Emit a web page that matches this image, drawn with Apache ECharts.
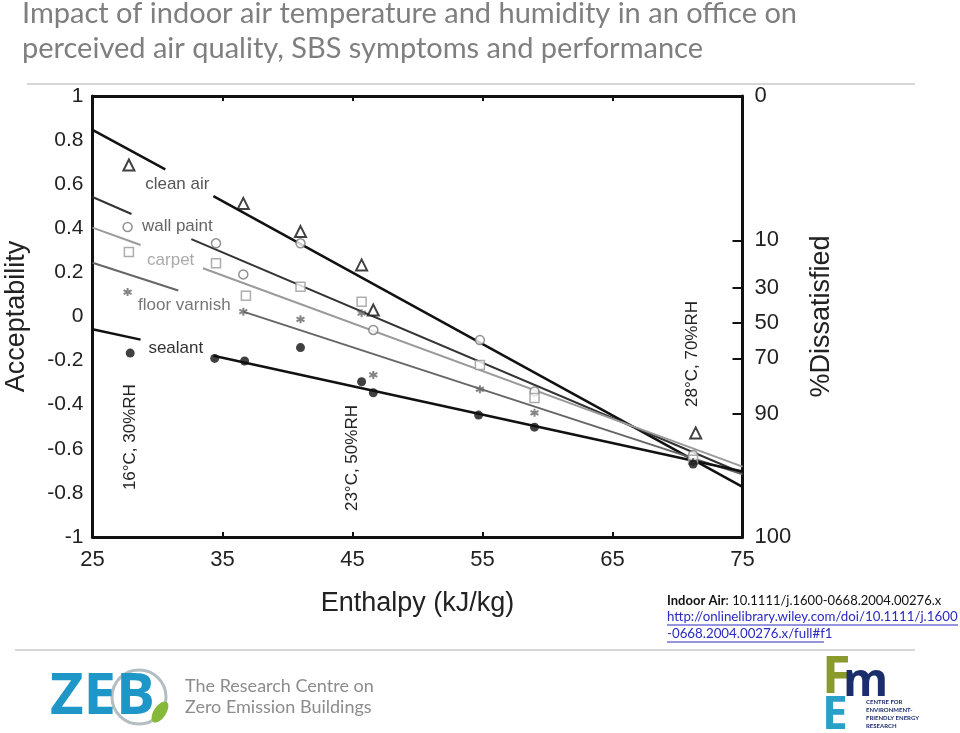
<!DOCTYPE html>
<html><head><meta charset="utf-8">
<script src="https://cdn.jsdelivr.net/npm/echarts@6/dist/echarts.min.js"></script>
<style>html,body{margin:0;padding:0;background:#fff}#c{width:960px;height:733px}</style>
</head><body><div id="c"></div>
<script>
// ---- data ----
const titleLines = ['Impact of indoor air temperature and humidity in an office on', 'perceived air quality, SBS symptoms and performance'];
const xTicks = [25, 35, 45, 55, 65, 75];
const dissatisfiedLabels = ['0', '10', '30', '50', '70', '90', '100'];
const dissatisfiedPos = [1, 0.345, 0.13, -0.03, -0.19, -0.44, -1];

// regression lines: [start, end of first piece, start of second piece, end]
const cleanAirFit = [[25, 0.846], [30.6, 0.667], [34.3, 0.546], [75, -0.773]];
const wallPaintFit = [[25, 0.542], [28.0, 0.465], [32.6, 0.351], [75, -0.711]];
const carpetFit = [[25, 0.403], [28.7, 0.324], [33.5, 0.219], [75, -0.681]];
const floorVarnishFit = [[25, 0.244], [31.6, 0.118], [36.6, 0.022], [75, -0.716]];
const sealantFit = [[25, -0.058], [28.7, -0.105], [34.3, -0.178], [75, -0.703]];

const cleanAirPts = [[27.8, 0.687], [36.6, 0.513], [41.0, 0.385], [45.7, 0.234], [46.6, 0.029], [71.4, -0.528]];
const wallPaintPts = [[27.7, 0.406], [34.5, 0.332], [36.6, 0.191], [41.0, 0.332], [46.6, -0.061], [54.8, -0.107], [59.0, -0.34], [71.2, -0.628]];
const carpetPts = [[27.8, 0.293], [34.5, 0.241], [36.8, 0.094], [41.0, 0.135], [45.7, 0.067], [54.8, -0.22], [59.0, -0.37], [71.2, -0.65]];
const floorVarnishPts = [[27.7, 0.111], [36.6, 0.022], [41.0, -0.013], [45.7, 0.015], [46.6, -0.265], [54.8, -0.33], [59.0, -0.437], [71.2, -0.66]];
const sealantPts = [[27.9, -0.166], [34.4, -0.19], [36.7, -0.202], [41.0, -0.141], [45.7, -0.296], [46.6, -0.346], [54.7, -0.447], [59.0, -0.502], [71.2, -0.669]];

const seriesNames = ['clean air', 'wall paint', 'carpet', 'floor varnish', 'sealant'];
const seriesLabelPos = [[29.05, 0.601], [28.8, 0.407], [29.2, 0.253], [28.5, 0.052], [29.3, -0.144]];
const conditionLabels = ['16°C, 30%RH', '23°C, 50%RH', '28°C, 70%RH'];
const conditionLabelPos = [[27.9, -0.547], [44.96, -0.642], [71.12, -0.17]];

// ---- styles ----
const FONT = '"Liberation Sans", Arial, sans-serif';
const lineColors = ['#111', '#333', '#9a9a9a', '#666', '#111'];
const lineWidths = [2.5, 2, 2, 2, 2.5];
const labelColors = ['#555', '#666', '#aaa', '#777', '#333'];
const fits = [cleanAirFit, wallPaintFit, carpetFit, floorVarnishFit, sealantFit];
const pts = [cleanAirPts, wallPaintPts, carpetPts, floorVarnishPts, sealantPts];
const asterisk = 'path://M0,-10L0,10M-8.66,-5L8.66,5M-8.66,5L8.66,-5';
const markerStyles = [
  {symbol: 'triangle', symbolSize: 11, itemStyle: {color: '#fff', borderColor: '#111', borderWidth: 2}},
  {symbol: 'circle', symbolSize: 9, itemStyle: {color: '#fff', borderColor: '#777', borderWidth: 1.5}},
  {symbol: 'rect', symbolSize: 9, itemStyle: {color: '#fff', borderColor: '#999', borderWidth: 1.5}},
  {symbol: asterisk, symbolSize: 8, itemStyle: {color: 'none', borderColor: '#666', borderWidth: 2}},
  {symbol: 'circle', symbolSize: 9, itemStyle: {color: '#111', borderColor: '#111', borderWidth: 0}}
];

const series = [];
fits.forEach((f, i) => {
  [f.slice(0, 2), f.slice(2, 4)].forEach(seg => {
    series.push({type: 'line', data: seg, symbol: 'none', silent: true, z: 2,
      lineStyle: {color: lineColors[i], width: lineWidths[i]}});
  });
});
pts.forEach((p, i) => {
  series.push(Object.assign({type: 'scatter', name: seriesNames[i], data: p, z: 3}, markerStyles[i]));
});

const chart = echarts.init(document.getElementById('c'), null, {renderer: 'canvas'});
const axisLine = {show: true, onZero: false, lineStyle: {color: '#111', width: 3}};
const option = {
  animation: false,
  grid: {left: 92.5, right: 217.5, top: 96, bottom: 196, containLabel: false, outerBoundsMode: 'none'},
  xAxis: [
    {type: 'value', min: 25, max: 75, interval: 10, position: 'bottom',
      axisLine, axisTick: {inside: true, length: 5, lineStyle: {color: '#111', width: 2}},
      axisLabel: {fontSize: 22, margin: 12, color: '#222', fontFamily: FONT,
        formatter: v => xTicks.includes(v) ? String(v) : ''},
      splitLine: {show: false},
      name: 'Enthalpy (kJ/kg)', nameLocation: 'middle', nameGap: 53,
      nameTextStyle: {fontSize: 27, color: '#222', fontFamily: FONT}},
    {type: 'value', min: 25, max: 75, interval: 10, position: 'top',
      axisLine, axisTick: {inside: true, length: 5, lineStyle: {color: '#111', width: 2}},
      axisLabel: {show: false}, splitLine: {show: false}}
  ],
  yAxis: [
    {type: 'value', min: -1, max: 1, interval: 0.2, position: 'left',
      axisLine, axisTick: {show: false},
      axisLabel: {fontSize: 21, margin: 9, color: '#222', fontFamily: FONT, padding: [5, 0, 0, 0]},
      splitLine: {show: false},
      name: 'Acceptability', nameLocation: 'middle', nameGap: 62, nameRotate: 90,
      nameTextStyle: {fontSize: 27, color: '#222', fontFamily: FONT}},
    {type: 'value', min: -1, max: 1, position: 'right',
      axisLine,
      axisTick: {show: true, inside: true, length: 10, customValues: dissatisfiedPos, lineStyle: {color: '#111', width: 2}},
      axisLabel: {show: true, customValues: dissatisfiedPos, fontSize: 22, margin: 12, color: '#222', fontFamily: FONT,
        padding: [5, 0, 0, 0],
        formatter: v => {
          let best = 0;
          dissatisfiedPos.forEach((p, i) => { if (Math.abs(p - v) < Math.abs(dissatisfiedPos[best] - v)) best = i; });
          return dissatisfiedLabels[best];
        }},
      splitLine: {show: false},
      name: '%Dissatisfied', nameLocation: 'middle', nameGap: 66, nameRotate: 90,
      nameTextStyle: {fontSize: 27, color: '#222', fontFamily: FONT}}
  ],
  series
};
chart.setOption(option);

// ---- annotations placed through the axes ----
const toPx = p => chart.convertToPixel({xAxisIndex: 0, yAxisIndex: 0}, p);
const graphics = [];
seriesNames.forEach((n, i) => {
  const [px, py] = toPx(seriesLabelPos[i]);
  graphics.push({type: 'text', x: px, y: py, z: 10,
    style: {text: n, fill: labelColors[i], font: '17px ' + FONT, align: 'left', verticalAlign: 'middle'}});
});
conditionLabels.forEach((t, i) => {
  const [px, py] = toPx(conditionLabelPos[i]);
  graphics.push({type: 'text', x: px, y: py, rotation: Math.PI / 2, z: 10,
    style: {text: t, fill: '#222', font: '17px ' + FONT, align: 'center', verticalAlign: 'middle'}});
});

// ---- slide decoration ----
const LATO = 'Lato, "Open Sans", sans-serif';
graphics.push(
  {type: 'line', shape: {x1: 27, y1: 84, x2: 915, y2: 84}, style: {stroke: '#c9c9c9', lineWidth: 1.5}},
  {type: 'line', shape: {x1: 15, y1: 650, x2: 915, y2: 650}, style: {stroke: '#c9c9c9', lineWidth: 1.5}},
  {type: 'text', x: 22, y: 14, style: {text: titleLines[0], fill: '#7f7f7f', font: '29px ' + LATO, verticalAlign: 'middle'}},
  {type: 'text', x: 22, y: 49, style: {text: titleLines[1], fill: '#7f7f7f', font: '29px ' + LATO, verticalAlign: 'middle'}},
  {type: 'text', x: 667, y: 601, style: {text: '{b|Indoor Air}: 10.1111/j.1600-0668.2004.00276.x',
    rich: {b: {fontWeight: 'bold', fontSize: 13, fontFamily: LATO, fill: '#111'}},
    fill: '#111', font: '13px ' + LATO, verticalAlign: 'middle'}},
  {type: 'text', x: 667, y: 617, style: {text: 'http://onlinelibrary.wiley.com/doi/10.1111/j.1600', fill: '#2a2ac0', font: '13.3px ' + LATO, verticalAlign: 'middle'}},
  {type: 'text', x: 667, y: 634, style: {text: '-0668.2004.00276.x/full#f1', fill: '#2a2ac0', font: '13.3px ' + LATO, verticalAlign: 'middle'}},
  {type: 'line', shape: {x1: 667, y1: 625, x2: 958, y2: 625}, style: {stroke: '#2a2ac0', lineWidth: 1}},
  {type: 'line', shape: {x1: 667, y1: 642, x2: 824, y2: 642}, style: {stroke: '#2a2ac0', lineWidth: 1}},
  // ZEB logo
  {type: 'circle', shape: {cx: 139, cy: 697, r: 27}, style: {fill: 'none', stroke: '#b4bec2', lineWidth: 3}},
  {type: 'ellipse', shape: {cx: 160, cy: 712, rx: 6, ry: 12}, rotation: -0.6, originX: 160, originY: 712, style: {fill: '#86b83a'}},
  {type: 'text', x: 50, y: 697, style: {text: 'ZEB', fill: '#1e96c8', font: 'bold 58px "Open Sans", sans-serif', verticalAlign: 'middle'}},
  {type: 'text', x: 185, y: 686, style: {text: 'The Research Centre on', fill: '#8c8c8c', font: '18px ' + LATO, verticalAlign: 'middle'}},
  {type: 'text', x: 185, y: 707, style: {text: 'Zero Emission Buildings', fill: '#8c8c8c', font: '18px ' + LATO, verticalAlign: 'middle'}},
  // FME logo
  {type: 'text', x: 822, y: 678, style: {text: 'F', fill: '#8a9a2c', font: 'bold 52px "Open Sans", sans-serif', verticalAlign: 'middle'}},
  {type: 'text', x: 843, y: 683, style: {text: 'm', fill: '#1c2d6b', font: 'bold 46px "Open Sans", sans-serif', verticalAlign: 'middle'}},
  {type: 'text', x: 822, y: 716, style: {text: 'E', fill: '#2aa0c8', font: 'bold 46px "Open Sans", sans-serif', verticalAlign: 'middle'}},
  {type: 'text', x: 866, y: 714, style: {text: 'CENTRE FOR\nENVIRONMENT-\nFRIENDLY ENERGY\nRESEARCH', fill: '#1c2d6b', font: 'bold 6px ' + LATO, lineHeight: 8, verticalAlign: 'middle'}}
);
chart.setOption({graphic: graphics});
</script>
</body></html>
